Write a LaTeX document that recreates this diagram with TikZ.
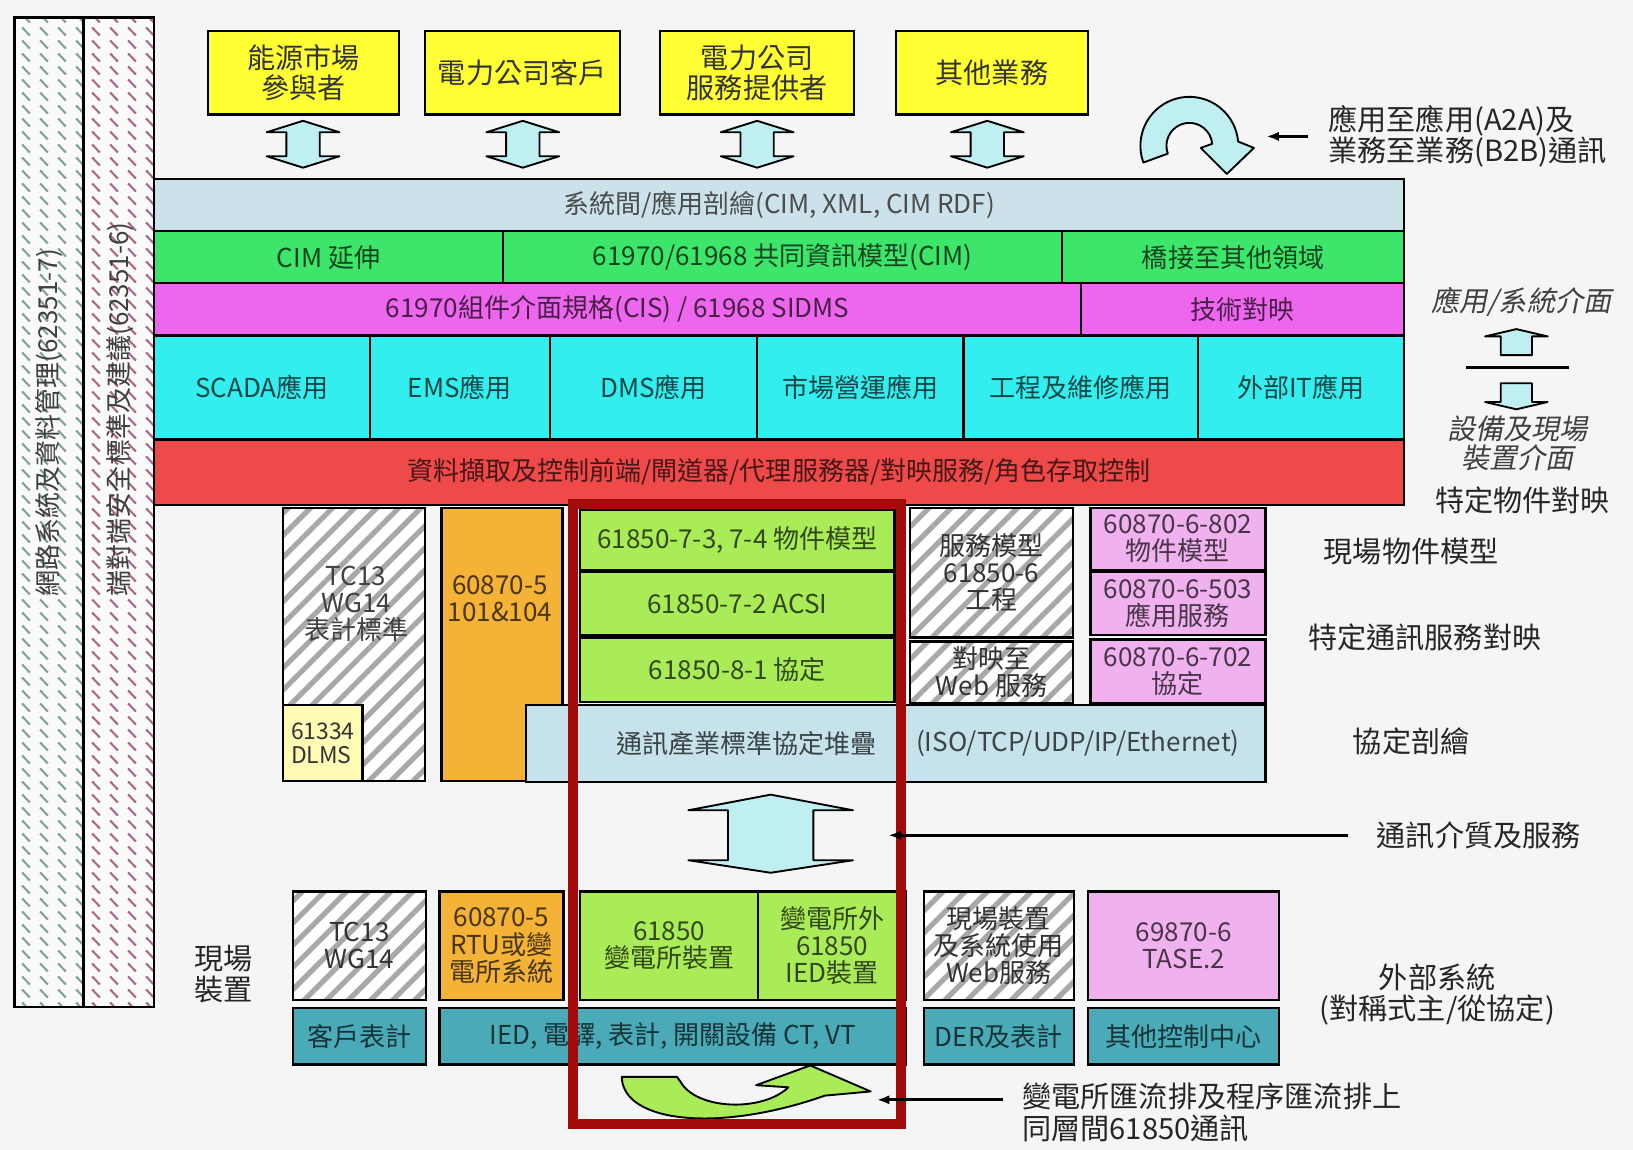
\documentclass[tikz,border=0pt]{standalone}
\usepackage{fontspec}
\setmainfont{Noto Sans CJK TC}
\newfontfamily\cjkslant[FakeSlant=0.2]{Noto Sans CJK TC}
\usetikzlibrary{
    positioning,
    arrows.meta,
    calc,
    patterns.meta
}

\definecolor{bgpage}{HTML}{F5F5F5}
\definecolor{ybox}{HTML}{FFFF33}
\definecolor{profblue}{HTML}{CBE2EA}
\definecolor{cimgreen}{HTML}{3DE66A}
\definecolor{cismag}{HTML}{EE66EE}
\definecolor{appcyan}{HTML}{33EEEE}
\definecolor{frontred}{HTML}{EE4A4A}
\definecolor{ledgreen}{HTML}{A9EC58}
\definecolor{iecorange}{HTML}{F4B236}
\definecolor{tasepink}{HTML}{EFB2EF}
\definecolor{stackblue}{HTML}{C6E2EA}
\definecolor{devteal}{HTML}{4AAAB8}
\definecolor{dlmsyellow}{HTML}{FFFAB4}
\definecolor{arrowcyan}{HTML}{BFEFF0}
\definecolor{framered}{HTML}{A30A0A}
\definecolor{hatchgray}{HTML}{A8A8A8}
\definecolor{netgray}{HTML}{7F9E9E}
\definecolor{secpink}{HTML}{A8648A}

\tikzdeclarepattern{
    name=netdash,
    type=uncolored,
    bottom left={(0pt,0pt)},
    top right={(17pt,12pt)},
    tile size={(17pt,12pt)},
    code={\draw[line width=2pt] (4pt,10.5pt) -- (11.5pt,2.5pt);}
}

\begin{document}
\begin{tikzpicture}[
    x=1pt, y=-1pt,
    corners/.style args={#1/#2/#3/#4}{
        minimum width={#3-#1},
        minimum height={#4-#2},
        at={({(#1+#3)/2},{(#2+#4)/2})},
    },
    blk/.style={
        draw,
        line width=2.2pt,
        inner sep=0pt,
        align=center,
        font=\fontsize{25}{26}\selectfont,
        text=black!80,
    },
    colbox/.style={
        blk,
        fill=#1,
        text=#1!30!black,
    },
    partybox/.style={
        blk,
        fill=ybox,
        font=\fontsize{27}{29}\selectfont,
    },
    hatched/.style={
        blk,
        preaction={fill=white},
        pattern={Lines[angle=45,distance=15pt,line width=5pt]},
        pattern color=hatchgray,
    },
    leftbar/.style={
        draw,
        line width=2.5pt,
        inner sep=0pt,
        preaction={fill=white!96!gray},
        pattern=netdash,
        pattern color=#1,
    },
    vlabel/.style={
        rotate=90,
        font=\fontsize{25}{26}\selectfont,
        text=black!75,
    },
    boxtext/.style={
        align=center,
        font=\fontsize{25}{26}\selectfont,
        text=#1,
    },
    sidetext/.style={
        align=center,
        font=\fontsize{28}{30}\selectfont,
        text=black!85,
    },
    slanttext/.style={
        align=center,
        font=\cjkslant\fontsize{27}{28}\selectfont,
        text=black!75,
    },
    blockarrow/.style={
        fill=arrowcyan,
        draw=black,
        line width=1.8pt,
        line join=round,
    },
    pointer/.style={
        line width=2.5pt,
        -{Latex[length=12pt,width=9pt]},
    },
    focusframe/.style={
        draw=framered,
        line width=10pt,
        inner sep=0pt,
    },
]
    % page
    \fill[bgpage] (0,0) rectangle (1568,1104);
    \useasboundingbox (0,0) rectangle (1568,1104);

    % security and management bars
    \node[leftbar=netgray, corners=14/17/80/967] (netmgmt) {};
    \node[leftbar=secpink, corners=80/17/148/967] (e2esec) {};
    \node[vlabel] (netmgmtl) at (47,406) {網路系統及資料管理(62351-7)};
    \node[vlabel] (e2esecl) at (115,393) {端對端安全標準及建議(62351-6)};

    % business parties
    \node[partybox, corners=200/30/383/110] (mktpart) {能源市場\\參與者};
    \node[partybox, corners=408/30/595/110] (custom) {電力公司客戶};
    \node[partybox, corners=634/30/820/110] (svcprov) {電力公司\\服務提供者};
    \node[partybox, corners=860/30/1045/110] (otherbiz) {其他業務};

    \foreach \cx in {291,502,727,948}
        \filldraw[blockarrow] (\cx,116) -- ++(35,11) -- ++(-19,0) -- ++(0,23) -- ++(19,0)
            -- (\cx,161) -- ++(-35,-11) -- ++(19,0) -- ++(0,-23) -- ++(-19,0) -- cycle;

    % a2a / b2b turn arrow
    \filldraw[blockarrow] ({1142+47*cos(160)},{140+47*sin(160)})
        arc[start angle=160, end angle=355, radius=47]
        -- (1204,142) -- (1178,167) -- (1153,142)
        -- ({1142+22*cos(355)},{140+22*sin(355)})
        arc[start angle=355, end angle=160, radius=22] -- cycle;

    % application stack
    \node[colbox=profblue, text=black!70, corners=148/172/1348/222] (profile) {系統間/應用剖繪(CIM, XML, CIM RDF)};
    \node[colbox=cimgreen, corners=148/222/483/272] (cimext) {CIM 延伸};
    \node[colbox=cimgreen, corners=483/222/1020/272] (cim) {61970/61968 共同資訊模型(CIM)};
    \node[colbox=cimgreen, corners=1020/222/1348/272] (bridge) {橋接至其他領域};
    \node[colbox=cismag, corners=148/272/1038/322] (cis) {61970組件介面規格(CIS) / 61968 SIDMS};
    \node[colbox=cismag, corners=1038/272/1348/322] (techmap) {技術對映};
    \node[colbox=appcyan, corners=148/322/355/422] (scada) {SCADA應用};
    \node[colbox=appcyan, corners=355/322/528/422] (ems) {EMS應用};
    \node[colbox=appcyan, corners=528/322/727/422] (dms) {DMS應用};
    \node[colbox=appcyan, corners=727/322/925/422] (mktops) {市場營運應用};
    \node[colbox=appcyan, corners=925/322/1150/422] (engmaint) {工程及維修應用};
    \node[colbox=appcyan, corners=1150/322/1348/422] (extit) {外部IT應用};
    \node[colbox=frontred, corners=148/422/1348/485] (frontend) {資料擷取及控制前端/閘道器/代理服務器/對映服務/角色存取控制};

    % object models and protocols
    \node[hatched, corners=272/488/408/750] (tcmeter) {};
    \node[boxtext=black!75] (tcmeterl) at (342,580) {TC13\\WG14\\表計標準};
    \node[colbox=dlmsyellow, text=black!80, align=left, font=\fontsize{22}{23}\selectfont, corners=272/677/348/750] (dlms) {61334\\DLMS};
    \node[colbox=iecorange, corners=424/488/540/750] (iec104) {};
    \node[boxtext=iecorange!30!black] (iec104l) at (480,575) {60870-5\\101\&104};
    \node[colbox=ledgreen, corners=557/490/859/547] (objmodel) {61850-7-3, 7-4 物件模型};
    \node[colbox=ledgreen, corners=557/549/859/610] (acsi) {61850-7-2 ACSI};
    \node[colbox=ledgreen, corners=557/612/859/674] (mms) {61850-8-1 協定};
    \node[hatched, corners=874/488/1030/612] (svcmodel) {服務模型\\61850-6\\工程};
    \node[hatched, corners=874/616/1030/675] (webmap) {對映至\\Web 服務};
    \node[colbox=tasepink, corners=1047/488/1215/547] (obj802) {60870-6-802\\物件模型};
    \node[colbox=tasepink, corners=1047/549/1215/610] (app503) {60870-6-503\\應用服務};
    \node[colbox=tasepink, corners=1047/614/1215/675] (proto702) {60870-6-702\\協定};
    \node[colbox=stackblue, corners=505/677/1215/751] (stack) {};
    \node[boxtext=stackblue!30!black] (stackl) at (717,714) {通訊產業標準協定堆疊};
    \node[boxtext=stackblue!30!black] (stackr) at (1035,714) {(ISO/TCP/UDP/IP/Ethernet)};

    % media arrow
    \filldraw[blockarrow] (740,763) -- ++(79,15) -- ++(-38,0) -- ++(0,48) -- ++(38,0)
        -- (740,838) -- ++(-79,-12) -- ++(38,0) -- ++(0,-48) -- ++(-38,0) -- cycle;

    % field devices
    \node[hatched, corners=281/856/409/960] (tcfield) {TC13\\WG14};
    \node[colbox=iecorange, corners=422/856/541/960] (rtu) {60870-5\\RTU或變\\電所系統};
    \node[colbox=ledgreen, corners=557/856/728/960] (subdev) {61850\\變電所裝置};
    \node[colbox=ledgreen, corners=728/856/870/960] (iedout) {變電所外\\61850\\IED裝置};
    \node[hatched, corners=887/856/1031/960] (webdev) {現場裝置\\及系統使用\\Web服務};
    \node[colbox=tasepink, corners=1045/856/1228/960] (tase) {69870-6\\TASE.2};
    \node[colbox=devteal, corners=281/968/409/1022] (custmeter) {客戶表計};
    \node[colbox=devteal, corners=422/968/870/1022] (iedrow) {IED, 電驛, 表計, 開關設備 CT, VT};
    \node[colbox=devteal, corners=887/968/1031/1022] (dermeter) {DER及表計};
    \node[colbox=devteal, corners=1045/968/1228/1022] (otherctr) {其他控制中心};

    % peer to peer arrow
    \filldraw[blockarrow, fill=ledgreen] (597,1034)
        .. controls (598,1078) and (690,1088) .. (792,1052)
        -- (836,1048) -- (778,1023) -- (726,1042) -- (757,1044)
        .. controls (732,1068) and (668,1066) .. (653,1038)
        -- (650,1034) -- cycle;

    \node[focusframe, corners=550/484/865/1079] (iec61850) {};

    % side labels
    \node[sidetext, anchor=west, align=left] (a2a) at (1272,131) {應用至應用(A2A)及\\業務至業務(B2B)通訊};
    \node[slanttext] (appif) at (1461,290) {應用/系統介面};
    \node[slanttext] (devif) at (1457,426) {設備及現場\\裝置介面};
    \node[sidetext] (objmap) at (1462,480) {特定物件對映};
    \node[sidetext] (fieldobj) at (1355,530) {現場物件模型};
    \node[sidetext] (svcmap) at (1368,612) {特定通訊服務對映};
    \node[sidetext] (protoprof) at (1355,712) {協定剖繪};
    \node[sidetext] (media) at (1420,802) {通訊介質及服務};
    \node[sidetext] (extsys) at (1380,955) {外部系統\\(對稱式主/從協定)};
    \node[sidetext] (fielddev) at (215,935) {現場\\裝置};
    \node[sidetext, anchor=west, align=left] (peer) at (978,1068) {變電所匯流排及程序匯流排上\\同層間61850通訊};

    % interface legend
    \filldraw[blockarrow] (1456,316) -- (1486,323) -- (1471,323) -- (1471,341)
        -- (1441,341) -- (1441,323) -- (1426,323) -- cycle;
    \draw[line width=2.5pt] (1408,353) -- (1507,353);
    \filldraw[blockarrow] (1441,368) -- (1471,368) -- (1471,386) -- (1486,386)
        -- (1456,393) -- (1426,386) -- (1441,386) -- cycle;

    % pointers
    \coordinate (a2atip) at (1216,131);
    \coordinate (mediatip) at (853,802);
    \coordinate (peertip) at (842,1056);
    \draw[pointer] ([xshift=-16pt]a2a.west) -- (a2atip);
    \draw[pointer] ([xshift=-24pt]media.west) -- (mediatip);
    \draw[pointer] ($(peer.west |- peertip)+(-15,0)$) -- (peertip);

\end{tikzpicture}
\end{document}
